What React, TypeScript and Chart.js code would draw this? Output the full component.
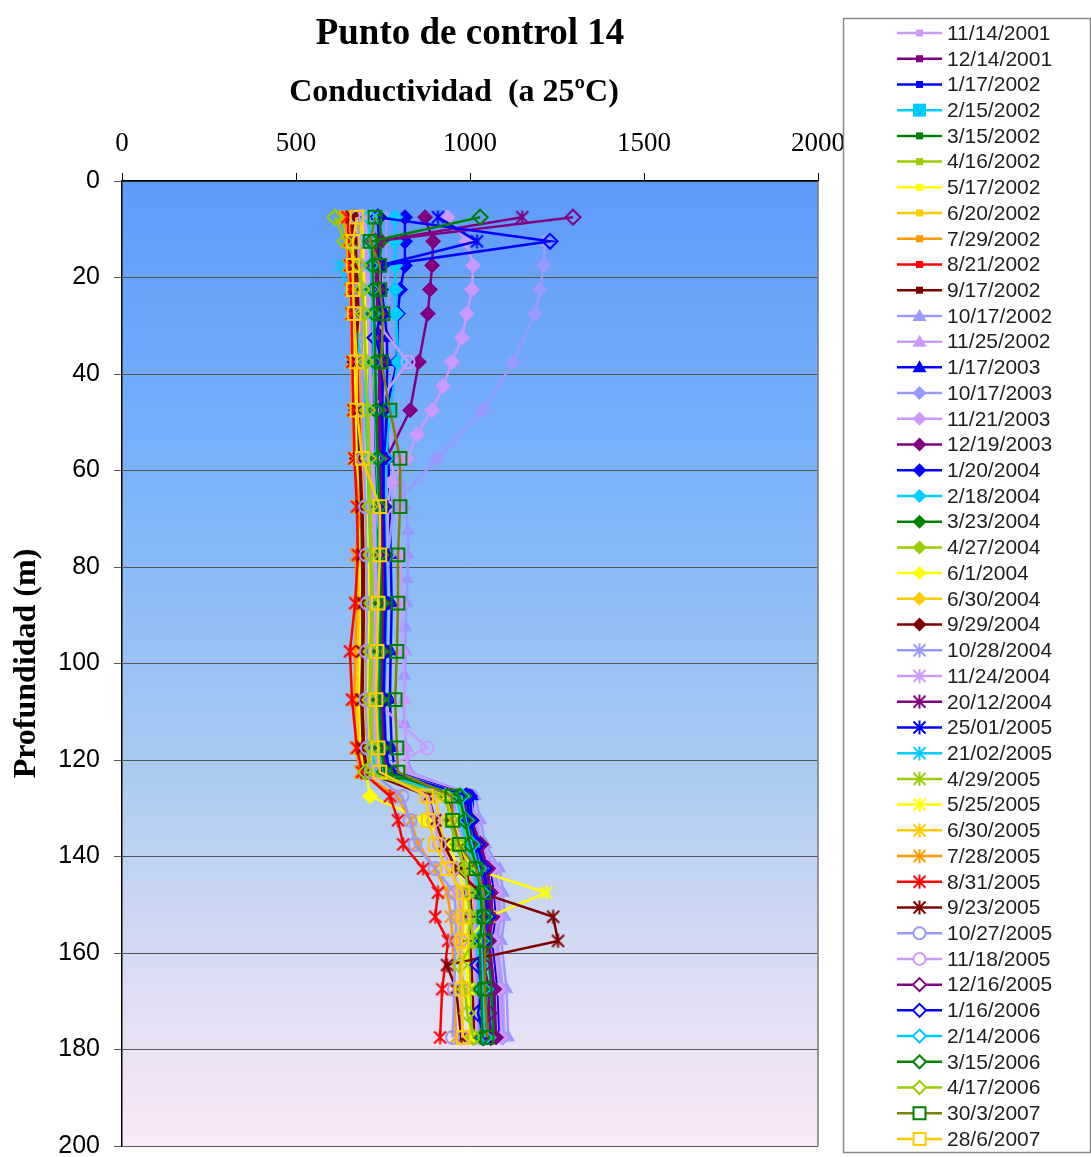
import React, { useEffect, useRef } from 'react';
import { Chart, registerables } from 'chart.js';

Chart.register(...registerables);

const TITLE = 'Punto de control 14';
const X_TITLE = 'Conductividad  (a 25ºC)';
const Y_TITLE = 'Profundidad (m)';
const X_TICK_STEP = 500;
const X_MAX = 2000;
const Y_TICK_STEP = 20;
const Y_MAX = 200;

// Depths (m) of the sampling points
const DEPTHS = [7.5, 12.5, 17.5, 22.5, 27.5, 32.5, 37.5, 47.5, 57.5, 67.5, 77.5, 87.5, 97.5, 107.5, 117.5, 122.5,
  127.5, 132.5, 137.5, 142.5, 147.5, 152.5, 157.5, 162.5, 167.5, 172.5, 177.5];
const DEPTHS_FINE = [7.5, 12.5, 17.5, 22.5, 27.5, 32.5, 37.5, 42.5, 47.5, 52.5, 57.5, 62.5, 67.5, 72.5, 77.5, 82.5,
  87.5, 92.5, 97.5, 102.5, 107.5, 112.5, 117.5, 122.5, 127.5, 132.5, 137.5, 142.5, 147.5, 152.5, 157.5, 167.5, 177.5];

const SERIES_LABELS = [
  '11/14/2001', '12/14/2001', '1/17/2002', '2/15/2002', '3/15/2002', '4/16/2002', '5/17/2002', '6/20/2002',
  '7/29/2002', '8/21/2002', '9/17/2002', '10/17/2002', '11/25/2002', '1/17/2003', '10/17/2003', '11/21/2003',
  '12/19/2003', '1/20/2004', '2/18/2004', '3/23/2004', '4/27/2004', '6/1/2004', '6/30/2004', '9/29/2004',
  '10/28/2004', '11/24/2004', '20/12/2004', '25/01/2005', '21/02/2005', '4/29/2005', '5/25/2005', '6/30/2005',
  '7/28/2005', '8/31/2005', '9/23/2005', '10/27/2005', '11/18/2005', '12/16/2005', '1/16/2006', '2/14/2006',
  '3/15/2006', '4/17/2006', '30/3/2007', '28/6/2007',
];

// Conductivity values (µS/cm) per series, aligned with the depth list of the series
const s01 = [700, 705, 705, 708, 710, 712, 712, 713, 713, 713, 714, 714, 715, 716, 716, 717, 717, 718, 718, 719, 720, 722, 725, 730, 965, 985, 1000, 1040, 1060, 1065, 1060, 1075, 1080];
const s02 = [695, 690, 700, 705, 710, null, 715, 720, 725, 735, 740, 738, 735, 730, 735, 745, 985, 1000, 1020, 1060, 1070, 1075, 1065, null, 1080, null, 1090];
const s03 = [705, 700, 710, 715, 720, null, 725, 730, 740, 745, 750, 752, 748, 745, 750, 760, 990, 1005, 1015, 1050, 1060, 1060, 1050, null, 1065, null, 1070];
const s04 = [690, 695, 700, 700, 705, null, 710, 715, 722, 730, 735, 740, 738, 735, 740, 750, 975, 990, 1005, 1040, 1050, 1055, 1045, null, 1060, null, 1065];
const s05 = [720, 715, 718, 720, 722, null, 725, 728, 732, 738, 742, 745, 742, 740, 745, 755, 980, 995, 1010, 1045, 1055, 1058, 1050, null, 1062, null, 1068];
const s06 = [680, 685, 690, 692, 695, null, 700, 705, 710, 718, 722, 725, 722, 720, 725, 735, 960, 975, 990, 1030, 1040, 1045, 1040, null, 1050, null, 1055];
const s07 = [670, 675, 680, 685, 690, null, 695, 700, 705, 712, 715, 718, 715, 712, 718, 728, 950, 965, 980, 1020, 1030, 1035, 1030, null, 1040, null, 1045];
const s08 = [665, 670, 672, 678, 682, null, 688, 692, 698, 705, 710, 712, 710, 708, 712, 722, 945, 958, 975, 1012, 1025, 1030, 1025, null, 1035, null, 1040];
const s09 = [660, 665, 668, 672, 676, null, 680, 686, 692, 700, 703, 705, 702, 700, 705, 715, 940, 952, 968, 1005, 1018, 1022, 1018, null, 1028, null, 1032];
const s10 = [655, 660, 662, 668, 670, null, 675, 680, 686, 695, 698, 700, 697, 695, 700, 710, 935, 948, 962, 1000, 1012, 1018, 1012, null, 1022, null, 1028];
const s11 = [650, 655, 660, 662, 665, null, 672, 676, 682, 690, 694, 696, 694, 690, 696, 705, 930, 945, 960, 995, 1008, 1012, 1008, null, 1018, null, 1022];
const s12 = [760, 758, 762, 765, 768, 770, 775, 778, 782, 788, 795, 800, 815, 822, 822, 820, 818, 815, 815, 812, 810, 812, 818, 828, 1015, 1030, 1045, 1085, 1095, 1100, 1090, 1105, 1110];
const s13 = [740, 742, 745, 748, 750, null, 758, 765, 775, 790, 800, 805, 808, 812, 815, 822, 1005, 1020, 1035, 1075, 1085, 1090, 1080, null, 1095, null, 1100];
const s14 = [735, 738, 740, 745, 755, 761, 762, 760, 765, 770, 772, 775, 772, 770, 775, 785, 1006, 1008, 1025, 1060, 1070, 1075, 1065, null, 1080, null, 1085];
const s15 = [null, 1215, 1212, 1201, 1187, null, 1124, 1037, 905, 780, 765, 760, 758, 755, 760, 775, 1000, 1015, 1030, 1070, 1080, 1085, 1075, null, 1090, null, 1095];
const s16 = [935, 990, 1009, 1006, 991, 977, 948, 923, 891, 848, 819, 773, 765, null, 760, null, 758, null, 755, null, 752, null, 758, 770, 995, 1010, 1025, 1065, 1075, 1080, 1070, 1085, 1090];
const s17 = [871, 894, 891, 885, 879, null, 853, 828, 760, 748, 750, 752, 750, 745, 752, 765, 995, 1005, 1030, 1050, 1060, 1065, 1055, null, 1070, null, 1075];
const s18 = [813, 813, 813, 799, 793, null, 790, 760, 755, 750, 755, 758, 755, 750, 755, 765, 1000, 1005, 1020, 1040, 1050, 1055, 1045, 1023, 1050, null, 1060];
const s19 = [785, 785, 785, 785, 788, null, 793, 770, 760, 755, 758, 760, 758, 752, 758, 768, 990, 1000, 1015, 1035, 1045, 1050, 1042, null, 1048, null, 1055];
const s20 = [740, 745, 740, 740, 745, null, 750, 735, 730, 735, 738, 740, 738, 735, 740, 752, 985, 995, 1010, 1030, 1040, 1045, 1038, null, 1045, null, 1050];
const s21 = [715, 720, 718, 720, 722, null, 728, 712, 708, 712, 715, 718, 715, 712, 718, 728, 965, 980, 995, 1015, 1025, 1030, 1022, null, 1030, null, 1035];
const s22 = [690, 695, 695, 698, 700, null, 705, 700, 698, 702, 705, 708, 705, 702, 705, 700, 713, 870, 940, 965, 985, 990, 985, null, 995, null, 1000];
const s23 = [685, 690, 688, 692, 695, null, 700, 695, 692, 698, 700, 702, 700, 698, 702, 712, 940, 955, 970, 995, 1005, 1010, 1005, null, 1012, null, 1018];
const s24 = [665, 672, 675, 678, 680, null, 668, 672, 675, 690, 694, 695, 692, 690, 695, 705, 935, 950, 965, 990, 1000, 1005, 1000, null, 1008, null, 1012];
const s25 = [700, 705, 705, 708, 712, null, 715, 718, 722, 728, 750, 732, 730, 728, 732, 742, 950, 965, 985, 1005, 1015, 1020, 1015, null, 1020, null, 1025];
const s26 = [695, 700, 700, 705, 708, null, 712, 715, 718, 722, 725, 728, 726, 724, 728, 738, 945, 960, 978, 1000, 1010, 1015, 1010, null, 1015, null, 1020];
const s27 = [1150, 735, 730, 732, 735, null, 740, 738, 742, 745, 748, 750, 748, 745, 750, 760, 980, 992, 1008, 1030, 1040, 1045, 1038, null, 1045, null, 1050];
const s28 = [908, 1020, 740, 738, 742, null, 745, 742, 745, 748, 752, 755, 752, 750, 755, 765, 975, 988, 1005, 1025, 1035, 1040, 1032, null, 1040, null, 1045];
const s29 = [720, 690, 626, 650, null, 675, 690, 700, 705, 710, 715, 718, 715, 712, 718, 728, 960, 975, 990, 1012, 1022, 1028, 1020, null, 1028, null, 1032];
const s30 = [630, 650, 660, 665, 670, null, 672, 675, 680, 685, 688, 690, 688, 685, 690, 700, 930, 945, 960, 985, 995, 1000, 995, null, 1000, null, 1005];
const s31 = [650, 655, 660, 662, 665, null, 668, 672, 675, 680, 682, 685, 682, 680, 685, 695, 930, 950, 975, 1006, 1219, 1055, 990, null, 995, null, 1000];
const s32 = [645, 650, 655, 658, 660, null, 662, 665, 670, 675, 678, 680, 678, 675, 680, 690, 900, 912, 925, 950, 965, 970, 965, null, 972, null, 978];
const s33 = [640, 645, 650, 655, 658, null, 660, 662, 665, 684, 672, 675, 670, 668, 672, 684, 790, 830, 850, 900, 935, 945, 950, null, 955, null, 960];
const s34 = [648, 652, 655, 658, 660, null, 662, 665, 668, 675, 678, 670, 655, 661, 675, 690, 770, 793, 808, 865, 908, 900, 937, null, 920, null, 914];
const s35 = [660, 665, 668, 670, 672, null, 675, 678, 682, 688, 690, 692, 690, 688, 692, 702, 880, 900, 925, 960, 1030, 1239, 1253, 934, 960, null, 975];
const s36 = [675, 680, 682, 685, 688, null, 690, 692, 695, 700, 702, 705, 702, 700, 705, 715, 805, 828, 842, 900, 955, 960, 958, null, 955, null, 950];
const s37 = [700, 705, 708, 710, 712, null, 822, 720, 722, 725, 728, 730, 728, 725, 877, 730, 880, 895, 912, 950, 970, 975, 972, null, 975, null, 978];
const s38 = [1296, 728, 730, 732, 735, null, 740, 742, 745, 748, 750, 752, 750, 748, 752, 762, 990, 1000, 1030, 1050, 1055, 1058, 1050, 1040, 1055, 1055, 1060];
const s39 = [735, 1230, 745, 742, 745, 727, 750, 748, 750, 752, 755, 758, 755, 752, 758, 768, 990, 1000, 1020, 1040, 1045, 1050, 1040, 1023, 1035, 1023, 1040];
const s40 = [710, 712, 715, 718, 720, null, 725, 728, 732, 738, 740, 742, 740, 738, 742, 752, 975, 988, 1005, 1025, 1035, 1040, 1032, null, 1038, null, 1042];
const s41 = [1029, 718, 720, 722, 725, null, 728, 730, 735, 740, 742, 745, 742, 740, 745, 755, 970, 985, 1000, 1020, 1030, 1035, 1028, null, 1032, null, 1036];
const s42 = [612, 641, 680, 690, 695, null, 700, 705, 708, 712, 715, 718, 715, 712, 718, 700, 930, 945, 965, 985, 995, 1000, 1010, 971, 985, 992, 1010];
const s43 = [727, 713, 741, 741, 750, null, 745, 770, 799, 799, 793, 793, 790, 785, 790, 793, 948, 950, 969, 1017, 1040, 1040, 1043, null, 1043, null, 1049];
const s44 = [675, 664, 664, 664, 667, null, 675, 675, 690, 741, 741, 736, 733, 730, 736, 741, 876, 880, 900, 934, 980, 980, 977, null, 977, null, 980];

const SERIES_VALUES = [s01, s02, s03, s04, s05, s06, s07, s08, s09, s10, s11, s12, s13, s14, s15, s16, s17, s18, s19, s20, s21, s22,
  s23, s24, s25, s26, s27, s28, s29, s30, s31, s32, s33, s34, s35, s36, s37, s38, s39, s40, s41, s42, s43, s44];
const FINE_SERIES = [0, 11, 15];

const LAV = '#CC99FF', PUR = '#800080', BLUE = '#0000FF', SKY = '#00CCFF', GRN = '#008000', LIME = '#99CC00',
  YEL = '#FFFF00', GOLD = '#FFCC00', ORG = '#FF9900', RED = '#FF0000', MAR = '#800000', PERI = '#9999FF', OLIVE = '#808000';

const LINE_COLORS = [LAV, PUR, BLUE, SKY, GRN, LIME, YEL, GOLD, ORG, RED, MAR,
  PERI, LAV, BLUE,
  PERI, LAV, PUR, BLUE, SKY, GRN, LIME, YEL, GOLD, MAR,
  PERI, LAV, PUR, BLUE, SKY, LIME, YEL, GOLD, ORG, RED, MAR,
  PERI, LAV, PUR, BLUE, SKY, GRN, LIME, OLIVE, GOLD];
const MARKER_COLORS = [LAV, PUR, BLUE, SKY, GRN, LIME, YEL, GOLD, ORG, RED, MAR,
  PERI, LAV, BLUE,
  PERI, LAV, PUR, BLUE, SKY, GRN, LIME, YEL, GOLD, MAR,
  PERI, LAV, PUR, BLUE, SKY, LIME, YEL, GOLD, ORG, RED, MAR,
  PERI, LAV, PUR, BLUE, SKY, GRN, LIME, GRN, GOLD];
const MARKERS = [
  'smallRect', 'smallRect', 'smallRect', 'bigRect', 'smallRect', 'smallRect', 'smallRect', 'smallRect', 'smallRect', 'smallRect', 'smallRect',
  'triangle', 'triangle', 'triangle',
  'diamond', 'diamond', 'diamond', 'diamond', 'diamond', 'diamond', 'diamond', 'diamond', 'diamond', 'diamond',
  'star', 'star', 'star', 'star', 'star', 'star', 'star', 'star', 'star', 'star', 'star',
  'circleOpen', 'circleOpen', 'diamondOpen', 'diamondOpen', 'diamondOpen', 'diamondOpen', 'diamondOpen', 'rectOpen', 'rectOpen',
];

function makeStar(color: string, size: number): HTMLCanvasElement {
  const c = document.createElement('canvas');
  c.width = size;
  c.height = size;
  const g = c.getContext('2d') as CanvasRenderingContext2D;
  g.strokeStyle = color;
  g.lineWidth = 2;
  const m = size / 2;
  const a = 1.5;
  g.beginPath();
  g.moveTo(a, a); g.lineTo(size - a, size - a);
  g.moveTo(size - a, a); g.lineTo(a, size - a);
  g.moveTo(m, 0.5); g.lineTo(m, size - 0.5);
  g.stroke();
  return c;
}

function drawLegendMarker(ctx: CanvasRenderingContext2D, kind: string, x: number, y: number, color: string, star: HTMLCanvasElement | null) {
  ctx.save();
  ctx.fillStyle = color;
  ctx.strokeStyle = color;
  ctx.lineWidth = 2;
  ctx.beginPath();
  if (kind === 'smallRect') {
    ctx.fillRect(x - 3.5, y - 3.5, 7, 7);
  } else if (kind === 'bigRect') {
    ctx.fillRect(x - 6.5, y - 6.5, 13, 13);
  } else if (kind === 'triangle') {
    ctx.moveTo(x, y - 7); ctx.lineTo(x + 7, y + 5); ctx.lineTo(x - 7, y + 5); ctx.closePath(); ctx.fill();
  } else if (kind === 'diamond') {
    ctx.moveTo(x, y - 7); ctx.lineTo(x + 7, y); ctx.lineTo(x, y + 7); ctx.lineTo(x - 7, y); ctx.closePath(); ctx.fill();
  } else if (kind === 'star' && star) {
    ctx.drawImage(star, x - star.width / 2, y - star.height / 2);
  } else if (kind === 'circleOpen') {
    ctx.fillStyle = '#fff';
    ctx.arc(x, y, 6, 0, Math.PI * 2); ctx.fill(); ctx.stroke();
  } else if (kind === 'diamondOpen') {
    ctx.fillStyle = '#fff';
    ctx.moveTo(x, y - 6.5); ctx.lineTo(x + 6.5, y); ctx.lineTo(x, y + 6.5); ctx.lineTo(x - 6.5, y); ctx.closePath(); ctx.fill(); ctx.stroke();
  } else if (kind === 'rectOpen') {
    ctx.fillStyle = '#fff';
    ctx.rect(x - 6, y - 6, 12, 12); ctx.fill(); ctx.stroke();
  }
  ctx.restore();
}

export default function App() {
  const canvasRef = useRef<HTMLCanvasElement | null>(null);

  useEffect(() => {
    const canvas = canvasRef.current;
    if (!canvas) return;

    const stars = MARKER_COLORS.map((c) => makeStar(c, 15));

    const datasets = SERIES_LABELS.map((label, i) => {
      const depths = FINE_SERIES.includes(i) ? DEPTHS_FINE : DEPTHS;
      const vals = SERIES_VALUES[i];
      const data: { x: number; y: number }[] = [];
      vals.forEach((v, j) => {
        if (v !== null && v !== undefined) data.push({ x: v as number, y: depths[j] });
      });
      const kind = MARKERS[i];
      const mc = MARKER_COLORS[i];
      let pointStyle: any = 'rect';
      let pointRadius = 4;
      let bg = mc;
      let bw = 1;
      if (kind === 'smallRect') { pointStyle = 'rect'; pointRadius = 3.5; }
      else if (kind === 'bigRect') { pointStyle = 'rect'; pointRadius = 7; }
      else if (kind === 'triangle') { pointStyle = 'triangle'; pointRadius = 7; }
      else if (kind === 'diamond') { pointStyle = 'rectRot'; pointRadius = 7.5; }
      else if (kind === 'star') { pointStyle = stars[i]; pointRadius = 7; }
      else if (kind === 'circleOpen') { pointStyle = 'circle'; pointRadius = 6.5; bg = 'rgba(0,0,0,0)'; bw = 2; }
      else if (kind === 'diamondOpen') { pointStyle = 'rectRot'; pointRadius = 7.5; bg = 'rgba(0,0,0,0)'; bw = 2; }
      else if (kind === 'rectOpen') { pointStyle = 'rect'; pointRadius = 9; bg = 'rgba(0,0,0,0)'; bw = 2; }
      return {
        label,
        data,
        showLine: true,
        borderColor: LINE_COLORS[i],
        backgroundColor: LINE_COLORS[i],
        borderWidth: 2.5,
        pointStyle,
        pointRadius,
        pointHoverRadius: pointRadius,
        pointBackgroundColor: bg,
        pointBorderColor: mc,
        pointBorderWidth: bw,
        order: 100 - i,
      };
    });

    const decorPlugin = {
      id: 'decor',
      beforeDraw(chart: any) {
        const { ctx, chartArea } = chart;
        const { left, top, right, bottom } = chartArea;
        ctx.save();
        ctx.fillStyle = '#ffffff';
        ctx.fillRect(0, 0, chart.width, chart.height);
        const g = ctx.createLinearGradient(0, top, 0, bottom);
        g.addColorStop(0, 'rgb(94,154,250)');
        g.addColorStop(0.3, 'rgb(122,178,250)');
        g.addColorStop(0.6, 'rgb(168,202,241)');
        g.addColorStop(0.85, 'rgb(224,222,243)');
        g.addColorStop(1, 'rgb(252,233,247)');
        ctx.fillStyle = g;
        ctx.fillRect(left, top, right - left, bottom - top);
        ctx.restore();
      },
      afterDraw(chart: any) {
        const { ctx, chartArea } = chart;
        ctx.save();
        ctx.strokeStyle = '#777';
        ctx.lineWidth = 1.5;
        ctx.beginPath();
        ctx.moveTo(chartArea.right, chartArea.top);
        ctx.lineTo(chartArea.right, chartArea.bottom);
        ctx.stroke();

        // Legend box
        const bx = 843.5, by = 18.5, bw = 247, bh = 1134;
        ctx.fillStyle = '#ffffff';
        ctx.fillRect(bx, by, bw, bh);
        ctx.strokeStyle = '#8a8a8a';
        ctx.lineWidth = 1.5;
        ctx.strokeRect(bx, by, bw, bh);
        ctx.font = '21px "Liberation Sans", Arial, sans-serif';
        ctx.textBaseline = 'middle';
        ctx.textAlign = 'left';
        SERIES_LABELS.forEach((label, i) => {
          const y = 33 + i * 25.72;
          ctx.strokeStyle = LINE_COLORS[i];
          ctx.lineWidth = 2.5;
          ctx.beginPath();
          ctx.moveTo(897, y);
          ctx.lineTo(942, y);
          ctx.stroke();
          drawLegendMarker(ctx, MARKERS[i], 919.5, y, MARKER_COLORS[i], stars[i]);
          ctx.fillStyle = '#1e1e1e';
          ctx.fillText(label, 947, y + 1);
        });
        ctx.restore();
      },
    };

    const chart = new Chart(canvas, {
      type: 'scatter',
      data: { datasets: datasets as any },
      options: {
        animation: false,
        responsive: false,
        maintainAspectRatio: false,
        events: [],
        layout: { padding: { left: 0, right: 273, top: 0, bottom: 10 } },
        plugins: {
          legend: { display: false },
          tooltip: { enabled: false },
          title: {
            display: true,
            text: TITLE,
            fullSize: false,
            color: '#000',
            font: { family: '"Liberation Serif", "Times New Roman", serif', size: 37, weight: 'bold', lineHeight: 1.2 },
            padding: { top: 12, bottom: 0 },
          },
        },
        scales: {
          x: {
            type: 'linear',
            position: 'top',
            min: 0,
            max: X_MAX,
            ticks: {
              stepSize: X_TICK_STEP,
              color: '#000',
              padding: 13,
              font: { family: '"Liberation Serif", "Times New Roman", serif', size: 27 },
              callback: (v: any) => String(v),
            },
            grid: { drawOnChartArea: false, drawTicks: true, tickLength: 8, color: '#000' },
            border: { display: true, color: '#000', width: 1.5 },
            title: {
              display: true,
              text: X_TITLE + '\u00A0\u00A0\u00A0\u00A0',
              color: '#000',
              font: { family: '"Liberation Serif", "Times New Roman", serif', size: 32, weight: 'bold', lineHeight: 1.2 },
              padding: { top: 17, bottom: 0 },
            },
            afterFit: (s: any) => { s.height = 124.6; s.paddingLeft = 0; s.paddingRight = 0; },
          },
          y: {
            type: 'linear',
            reverse: true,
            min: 0,
            max: Y_MAX,
            ticks: {
              stepSize: Y_TICK_STEP,
              color: '#000',
              padding: 14,
              font: { family: '"Liberation Sans", Arial, sans-serif', size: 25 },
              callback: (v: any) => String(v),
            },
            grid: { color: '#555', lineWidth: 1, drawTicks: true, tickLength: 8 },
            border: { display: true, color: '#000', width: 1.5 },
            title: {
              display: true,
              text: Y_TITLE,
              color: '#000',
              font: { family: '"Liberation Serif", "Times New Roman", serif', size: 32, weight: 'bold', lineHeight: 1.2 },
              padding: { top: 8, bottom: 0 },
            },
            afterFit: (s: any) => { s.width = 122; s.paddingTop = 0; s.paddingBottom = 0; },
          },
        },
      } as any,
      plugins: [decorPlugin],
    });

    return () => chart.destroy();
  }, []);

  return (
    <div style={{ position: 'absolute', left: 0, top: 0, width: 1091, height: 1157, background: '#fff' }}>
      <canvas ref={canvasRef} width={1091} height={1157} style={{ width: 1091, height: 1157, display: 'block' }} />
    </div>
  );
}
